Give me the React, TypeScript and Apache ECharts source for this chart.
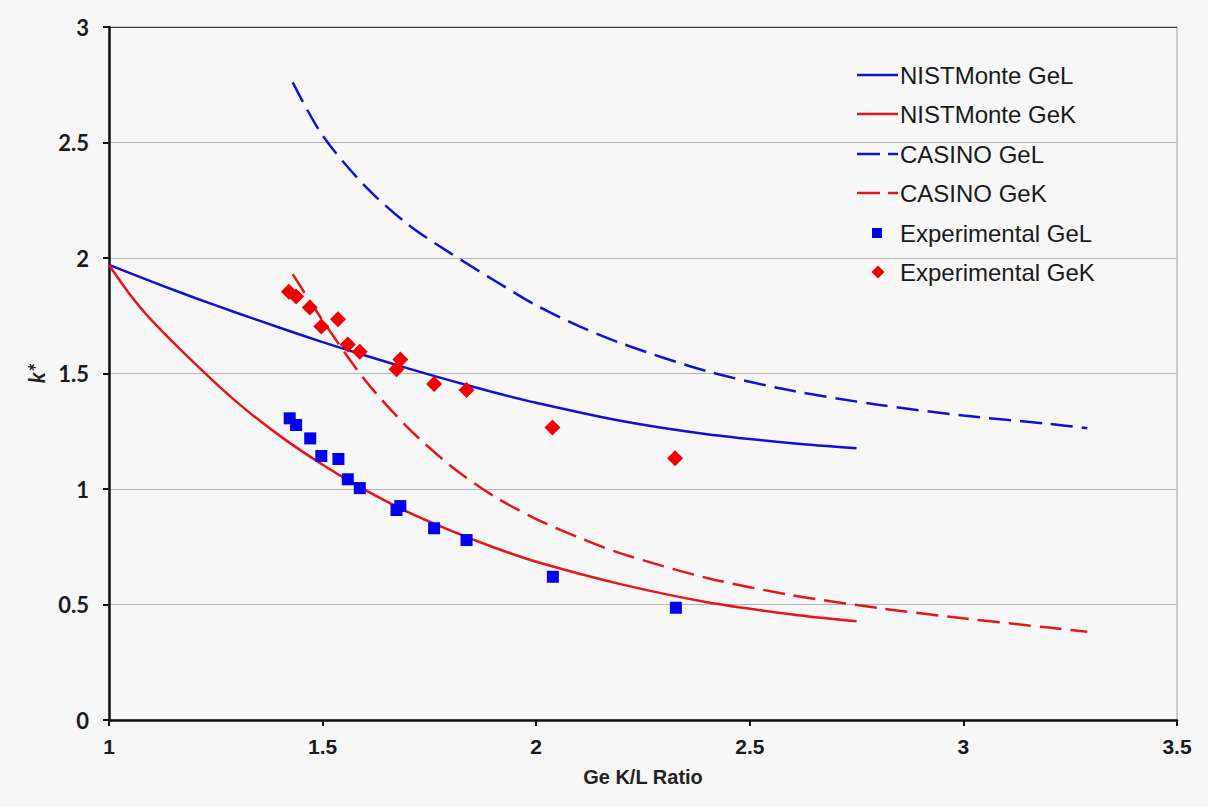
import React, { useEffect, useRef } from "react";
import * as echarts from "echarts";

// ---- data ----
const nistGeLX = [1.0, 1.1, 1.2, 1.3, 1.4, 1.5, 1.6, 1.7, 1.8, 1.9, 2.0, 2.2, 2.4, 2.6, 2.75];
const nistGeLY = [1.97, 1.898, 1.828, 1.762, 1.698, 1.636, 1.578, 1.522, 1.469, 1.419, 1.373, 1.294, 1.237, 1.198, 1.176];

const nistGeKX = [1.0, 1.05, 1.1, 1.2, 1.3, 1.4, 1.5, 1.6, 1.7, 1.8, 1.9, 2.0, 2.2, 2.4, 2.6, 2.75];
const nistGeKY = [1.97, 1.84, 1.73, 1.545, 1.375, 1.23, 1.105, 0.995, 0.9, 0.82, 0.748, 0.685, 0.587, 0.51, 0.457, 0.427];

const casinoGeLX = [1.43, 1.5, 1.6, 1.7, 1.8, 1.9, 2.0, 2.1, 2.2, 2.4, 2.6, 2.8, 3.0, 3.2, 3.29];
const casinoGeLY = [2.76, 2.53, 2.31, 2.145, 2.02, 1.905, 1.795, 1.705, 1.63, 1.51, 1.425, 1.365, 1.318, 1.282, 1.263];

const casinoGeKX = [1.43, 1.5, 1.6, 1.7, 1.8, 1.9, 2.0, 2.1, 2.2, 2.4, 2.6, 2.8, 3.0, 3.2, 3.29];
const casinoGeKY = [1.93, 1.73, 1.47, 1.265, 1.1, 0.97, 0.87, 0.79, 0.72, 0.615, 0.54, 0.485, 0.44, 0.4, 0.382];

const expGeLX = [1.423, 1.438, 1.471, 1.497, 1.537, 1.559, 1.587, 1.673, 1.682, 1.761, 1.837, 2.039, 2.327];
const expGeLY = [1.306, 1.277, 1.219, 1.143, 1.13, 1.042, 1.004, 0.909, 0.926, 0.83, 0.779, 0.62, 0.486];

const expGeKX = [1.421, 1.438, 1.47, 1.497, 1.536, 1.559, 1.587, 1.673, 1.682, 1.761, 1.837, 2.038, 2.325];
const expGeKY = [1.854, 1.833, 1.786, 1.703, 1.735, 1.626, 1.594, 1.518, 1.561, 1.455, 1.429, 1.266, 1.133];

const seriesNames = [
  "NISTMonte GeL",
  "NISTMonte GeK",
  "CASINO GeL",
  "CASINO GeK",
  "Experimental GeL",
  "Experimental GeK",
];

const xTitle = "Ge K/L Ratio";
const yTitle = "k*";

const zip = (xs: number[], ys: number[]) => xs.map((x, i) => [x, ys[i]]);

const BLUE = "#1010d8";
const RED = "#e8141c";
const SQ = "#0000f0";
const DI = "#f00000";
const DASH = [22, 9];

function legendGraphics() {
  const left = 857;
  const top = 75;
  const step = 39.4;
  const textX = 900;
  const font = "24px 'Liberation Sans', Arial, sans-serif";
  const kinds = ["solid", "solid", "dash", "dash", "square", "diamond"];
  const colors = [BLUE, RED, BLUE, RED, SQ, DI];
  const els: any[] = [];
  seriesNames.forEach((name, i) => {
    const cy = Math.round(top + step * i);
    const kind = kinds[i];
    if (kind === "solid") {
      els.push({
        type: "line",
        shape: { x1: left, y1: cy, x2: left + 41, y2: cy },
        style: { stroke: colors[i], lineWidth: 2.5 },
      });
    } else if (kind === "dash") {
      els.push({
        type: "line",
        shape: { x1: left, y1: cy, x2: left + 23, y2: cy },
        style: { stroke: colors[i], lineWidth: 2.5 },
      });
      els.push({
        type: "line",
        shape: { x1: left + 31, y1: cy, x2: left + 41, y2: cy },
        style: { stroke: colors[i], lineWidth: 2.5 },
      });
    } else if (kind === "square") {
      els.push({
        type: "rect",
        shape: { x: left + 15, y: cy - 5, width: 10, height: 10 },
        style: { fill: colors[i] },
      });
    } else {
      const cx = left + 21;
      els.push({
        type: "polygon",
        shape: { points: [[cx, cy - 6.5], [cx + 6.5, cy], [cx, cy + 6.5], [cx - 6.5, cy]] },
        style: { fill: colors[i] },
      });
    }
    els.push({
      type: "text",
      x: textX,
      y: cy,
      style: { text: name, font, fill: "#1a1a1a", verticalAlign: "middle", align: "left" },
    });
  });
  return els;
}

export default function App() {
  const ref = useRef<HTMLDivElement>(null);

  useEffect(() => {
    if (!ref.current) return;
    const chart = echarts.init(ref.current, null, { renderer: "svg" });
    const lineBase = {
      type: "line" as const,
      showSymbol: false,
      symbol: "none",
      smooth: 0.3,
    };
    chart.setOption({
      animation: false,
      backgroundColor: "#f7f7f7",
      grid: {
        left: 109,
        right: 31,
        top: 27,
        bottom: 87,
        show: true,
        borderColor: "#a0a0a0",
        borderWidth: 1,
        backgroundColor: "transparent",
      },
      graphic: legendGraphics(),
      xAxis: {
        type: "value",
        min: 1,
        max: 3.5,
        interval: 0.5,
        name: xTitle,
        nameLocation: "middle",
        nameGap: 47,
        nameTextStyle: {
          fontFamily: "Liberation Sans Narrow, Liberation Sans, Arial, sans-serif",
          fontWeight: "bold",
          fontSize: 20,
          color: "#222",
        },
        axisLine: { show: true, onZero: false, lineStyle: { color: "#111", width: 2.5 } },
        axisTick: { show: true, inside: false, length: 6, lineStyle: { color: "#111", width: 2 } },
        axisLabel: {
          margin: 16,
          fontFamily: "Liberation Sans, Arial, sans-serif",
          fontWeight: "bold",
          fontSize: 21,
          color: "#1a1a1a",
        },
        splitLine: { show: false },
      },
      yAxis: {
        type: "value",
        min: 0,
        max: 3,
        interval: 0.5,
        name: yTitle,
        nameLocation: "middle",
        nameGap: 62,
        nameRotate: 90,
        nameTextStyle: {
          fontFamily: "Lato, Open Sans, sans-serif",
          fontWeight: "bold",
          fontStyle: "italic",
          fontSize: 22,
          color: "#222",
        },
        axisLine: { show: true, onZero: false, lineStyle: { color: "#111", width: 2.5 } },
        axisTick: { show: true, inside: false, length: 6, lineStyle: { color: "#111", width: 2 } },
        axisLabel: {
          margin: 20,
          fontFamily: "Lato, Open Sans, sans-serif",
          fontWeight: "bold",
          fontSize: 22,
          color: "#1a1a1a",
        },
        splitLine: {
          show: true,
          lineStyle: {
            color: ["#b4b4b4", "#b4b4b4", "#b4b4b4", "#b4b4b4", "#b4b4b4", "#b4b4b4", "#3a3a3a"],
            width: 1,
          },
        },
      },
      series: [
        {
          ...lineBase,
          name: seriesNames[0],
          data: zip(nistGeLX, nistGeLY),
          lineStyle: { color: BLUE, width: 2.5 },
          itemStyle: { color: BLUE },
          z: 3,
        },
        {
          ...lineBase,
          name: seriesNames[1],
          data: zip(nistGeKX, nistGeKY),
          lineStyle: { color: RED, width: 2.5 },
          itemStyle: { color: RED },
          z: 3,
        },
        {
          ...lineBase,
          name: seriesNames[2],
          data: zip(casinoGeLX, casinoGeLY),
          lineStyle: { color: BLUE, width: 2.5, type: DASH },
          itemStyle: { color: BLUE },
          z: 3,
        },
        {
          ...lineBase,
          name: seriesNames[3],
          data: zip(casinoGeKX, casinoGeKY),
          lineStyle: { color: RED, width: 2.5, type: DASH },
          itemStyle: { color: RED },
          z: 3,
        },
        {
          type: "scatter",
          name: seriesNames[4],
          data: zip(expGeLX, expGeLY),
          symbol: "rect",
          symbolSize: 12,
          itemStyle: { color: SQ, opacity: 1 },
          z: 4,
        },
        {
          type: "scatter",
          name: seriesNames[5],
          data: zip(expGeKX, expGeKY),
          symbol: "diamond",
          symbolSize: 16,
          itemStyle: { color: DI, opacity: 1 },
          z: 4,
        },
      ],
    });
    return () => chart.dispose();
  }, []);

  return (
    <div
      ref={ref}
      style={{ position: "fixed", left: 0, top: 0, width: 1208, height: 807, background: "#f7f7f7" }}
    />
  );
}
